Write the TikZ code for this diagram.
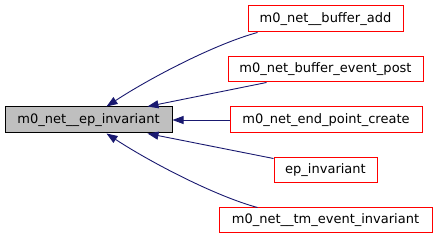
\documentclass[tikz,border=0pt]{standalone}
\usepackage{fontspec}
\setmainfont{DejaVu Sans}
\usetikzlibrary{arrows.meta}
\definecolor{edgeblue}{HTML}{191970}
\definecolor{boxgray}{HTML}{BFBFBF}
\tikzset{
  fn/.style={draw=red, line width=1pt, fill=white, inner sep=0pt,
    font=\fontsize{13}{15}\selectfont, text=black, anchor=center},
  focus/.style={fn, draw=black, fill=boxgray},
  call/.style={draw=edgeblue, line width=0.9pt,
    {Triangle[length=11pt,width=8pt]}-}
}
\begin{document}
\begin{tikzpicture}[x=1pt,y=-1pt]
  \useasboundingbox (0,0) rectangle (437,240);
  % the function whose callers are shown
  \node[focus, minimum width=167pt, minimum height=26pt] (main) at (88.5,120) {m0\_net\_\_ep\_invariant};
  % callers
  \node[fn, minimum width=155pt, minimum height=26pt] (ba) at (325.5,19) {m0\_net\_\_buffer\_add};
  \node[fn, minimum width=195pt, minimum height=25pt] (bep) at (325.5,69.5) {m0\_net\_buffer\_event\_post};
  \node[fn, minimum width=192pt, minimum height=26pt] (epc) at (326,120) {m0\_net\_end\_point\_create};
  \node[fn, minimum width=103pt, minimum height=25pt] (ep) at (325.5,170.5) {ep\_invariant};
  \node[fn, minimum width=213pt, minimum height=25pt] (tm) at (325.5,220.5) {m0\_net\_\_tm\_event\_invariant};
  % call edges, arrow at the callee
  \draw[call] ([xshift=102pt]main.north west) .. controls (150,78) and (215,44) .. ([xshift=10pt]ba.south west);
  \draw[call] ([xshift=143pt]main.north west) -- ([xshift=39pt]bep.south west);
  \draw[call] (main.east) -- (epc.west);
  \draw[call] ([xshift=143pt]main.south west) -- ([yshift=-1pt]ep.north west);
  \draw[call] ([xshift=102pt]main.south west) .. controls (150,162) and (215,196) .. ([xshift=39pt]tm.north west);
\end{tikzpicture}
\end{document}
